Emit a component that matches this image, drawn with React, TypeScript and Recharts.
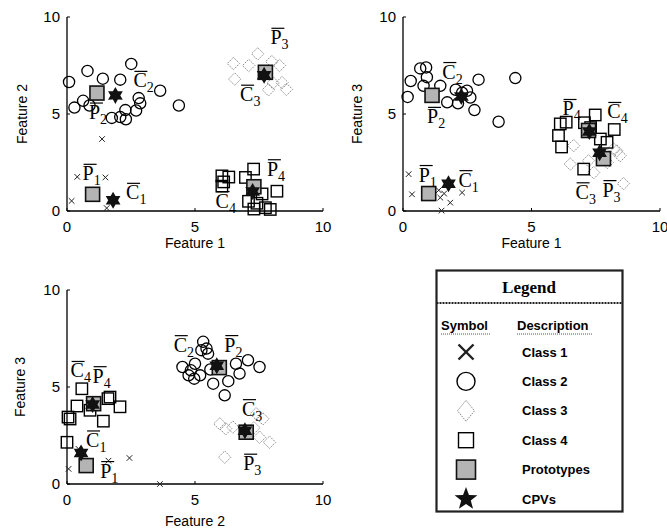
import { ScatterChart, Scatter, XAxis, YAxis } from 'recharts';

type Pt = [number, number];

// Feature 1 vs Feature 2
const class1A: Pt[] = [[1.37, 3.71], [0.4, 1.76], [1.5, 1.73], [0.18, 0.52], [1.55, 0.15]];
const class2A: Pt[] = [
  [0.08, 6.65], [0.8, 7.22], [1.4, 6.82], [2.08, 6.77], [2.51, 7.58], [3.64, 6.2], [4.37, 5.44],
  [0.29, 5.33], [0.63, 5.68], [0.88, 5.44], [1.75, 4.8], [2.08, 4.84], [2.28, 5.2], [2.3, 4.73],
  [2.7, 5.18], [2.8, 5.82], [2.86, 5.55],
];
const class3A: Pt[] = [
  [6.5, 7.6], [7.1, 7.5], [7.45, 8.1], [8.0, 7.7], [8.3, 7.5], [6.55, 6.8], [8.4, 6.62],
  [8.57, 6.27], [7.87, 6.25], [8.05, 6.6],
];
const class4A: Pt[] = [
  [6.05, 1.81], [6.12, 1.5], [6.05, 1.28], [6.32, 1.75], [7.29, 2.16], [6.97, 1.73], [8.2, 1.02],
  [7.62, 0.88], [7.09, 0.5], [7.42, 0.4], [7.75, 0.17], [7.94, 0.08], [7.3, 0.1],
];
const protoA: Pt[] = [[1.0, 0.86], [1.17, 6.08], [7.75, 7.15], [7.3, 1.25]];
const cpvA: Pt[] = [[1.8, 0.55], [1.89, 5.96], [7.7, 7.0], [7.25, 1.0]];

// Feature 1 vs Feature 3
const class1B: Pt[] = [[0.22, 1.9], [0.35, 0.86], [1.39, 1.07], [1.45, 0.69], [1.84, 0.43], [2.3, 0.95], [1.5, 0.02], [1.6, 0.9]];
const class2B: Pt[] = [
  [0.18, 5.88], [0.3, 6.7], [0.67, 7.35], [0.9, 7.4], [0.93, 6.9], [0.8, 6.45], [1.45, 6.45],
  [2.94, 6.77], [4.37, 6.85], [1.72, 5.6], [2.14, 5.55], [2.78, 5.2], [2.62, 5.85], [3.72, 4.6],
  [2.49, 6.2], [2.3, 6.1], [2.05, 6.25],
];
const class3B: Pt[] = [
  [6.64, 3.37], [6.51, 2.42], [7.22, 2.59], [7.42, 1.98], [8.19, 3.2], [8.45, 2.85], [8.58, 1.41],
  [8.32, 3.1], [7.95, 2.5],
];
const class4B: Pt[] = [
  [6.12, 4.49], [6.35, 4.58], [6.05, 3.89], [6.17, 3.3], [7.48, 4.95], [7.06, 4.55], [8.22, 4.2],
  [7.68, 3.71], [7.94, 3.54], [7.03, 2.16], [7.3, 4.3],
];
const protoB: Pt[] = [[1.0, 0.9], [1.13, 5.96], [7.8, 2.7], [7.22, 4.15]];
const cpvB: Pt[] = [[1.77, 1.41], [2.27, 5.9], [7.65, 3.0], [7.25, 4.1]];

// Feature 2 vs Feature 3
const class1C: Pt[] = [[0.45, 1.81], [2.44, 1.34], [0.06, 0.78], [3.63, 0.0], [1.62, 1.2]];
const class2C: Pt[] = [
  [5.32, 7.33], [5.45, 6.98], [5.51, 6.72], [5.25, 6.9], [4.51, 6.03], [4.84, 5.86], [4.97, 5.43],
  [5.2, 5.6], [5.71, 5.17], [6.16, 4.57], [6.74, 5.69], [7.07, 6.38], [7.52, 6.03], [6.6, 6.2],
  [5.0, 6.2], [5.6, 5.9], [6.3, 5.3], [4.75, 5.6],
];
const class3C: Pt[] = [
  [5.97, 3.1], [6.48, 2.93], [7.39, 3.62], [7.65, 3.36], [7.91, 2.15], [7.52, 2.41], [6.16, 1.38],
  [6.2, 2.85], [7.3, 2.9],
];
const class4C: Pt[] = [
  [0.58, 4.91], [0.39, 4.02], [1.68, 4.48], [2.07, 3.98], [1.42, 3.24], [0.04, 3.45], [0.0, 2.15],
  [0.9, 3.8], [0.12, 3.35], [1.6, 4.4],
];
const protoC: Pt[] = [[0.75, 0.95], [5.95, 6.0], [7.0, 2.67], [1.04, 4.14]];
const cpvC: Pt[] = [[0.55, 1.6], [5.85, 6.1], [6.95, 2.75], [1.0, 4.1]];

const ticks = [0, 5, 10];
const legendRows = ['Class 1', 'Class 2', 'Class 3', 'Class 4', 'Prototypes', 'CPVs'];

// pixel offsets of the P̄k / C̄k annotations from their marker
const notesA: Record<string, Pt> = {
  P1: [-10, -14], P2: [-8, 26], P3: [5, -28], P4: [13, -11],
  C1: [13, -1], C2: [18, -8], C3: [-24, 26], C4: [-37, 16],
};
const notesB: Record<string, Pt> = {
  P1: [-10, -12], P2: [-5, 28], P3: [-1, 38], P4: [-26, -15],
  C1: [10, 3], C2: [-19, -18], C3: [-24, 46], C4: [18, -13],
};
const notesC: Record<string, Pt> = {
  P1: [14, 12], P2: [5, -16], P3: [-3, 38], P4: [-1, -21],
  C1: [5, -6], C2: [-43, -14], C3: [-3, -15], C4: [-22, -27],
};

const SANS = '"Liberation Sans", Arial, sans-serif';
const SERIF = '"Liberation Serif", "Times New Roman", serif';

const toXY = (pts: Pt[], tag?: string) =>
  pts.map(([x, y], i) => ({ x, y, id: tag ? `${tag}${i + 1}` : undefined }));

const starPath = (cx: number, cy: number, r: number, n: number, inner: number) => {
  const pts: string[] = [];
  for (let k = 0; k < n * 2; k++) {
    const a = (-90 + (180 / n) * k) * (Math.PI / 180);
    const rr = k % 2 === 0 ? r : r * inner;
    pts.push(`${(cx + rr * Math.cos(a)).toFixed(2)},${(cy + rr * Math.sin(a)).toFixed(2)}`);
  }
  return `M${pts.join('L')}Z`;
};

const Cross = ({ cx, cy, s = 2.8, w = 1 }: any) => (
  <g stroke="#222" strokeWidth={w}>
    <line x1={cx - s} y1={cy - s} x2={cx + s} y2={cy + s} />
    <line x1={cx - s} y1={cy + s} x2={cx + s} y2={cy - s} />
  </g>
);
const Ring = ({ cx, cy, r = 5.6, w = 1.3 }: any) => (
  <circle cx={cx} cy={cy} r={r} fill="none" stroke="#000" strokeWidth={w} />
);
const Diamond = ({ cx, cy, s = 6.2, h = 6.2 }: any) => (
  <path
    d={`M${cx},${cy - h}L${cx + s},${cy}L${cx},${cy + h}L${cx - s},${cy}Z`}
    fill="none"
    stroke="#8a8a8a"
    strokeWidth={1}
    strokeDasharray="1.6 1.1"
  />
);
const Box = ({ cx, cy, s = 5.7, w = 1.4 }: any) => (
  <rect x={cx - s} y={cy - s} width={s * 2} height={s * 2} fill="none" stroke="#000" strokeWidth={w} />
);
const Proto = ({ cx, cy, s = 7 }: any) => (
  <rect x={cx - s} y={cy - s} width={s * 2} height={s * 2} fill="#b4b4b4" stroke="#111" strokeWidth={1.6} />
);
const Hex = ({ cx, cy }: any) => <path d={starPath(cx, cy, 8.5, 6, 0.577)} fill="#111" />;

const BarLetter = ({ x, y, letter, sub }: { x: number; y: number; letter: string; sub: string }) => (
  <g>
    <text x={x} y={y} fontFamily={SERIF} fontSize={20} fill="#000">
      {letter}
      <tspan fontSize={14} dy={5}>{sub}</tspan>
    </text>
    <line x1={x + 1} x2={x + 14} y1={y - 16} y2={y - 16} stroke="#000" strokeWidth={1.2} />
  </g>
);

type PanelProps = {
  left: number;
  top: number;
  width: number;
  height: number;
  margin: { top: number; right: number; bottom: number; left: number };
  yWidth: number;
  xLabel: string;
  yLabel: string;
  xLabelOffset: number;
  yLabelOffset: number;
  c1: Pt[];
  c2: Pt[];
  c3: Pt[];
  c4: Pt[];
  protos: Pt[];
  cpvs: Pt[];
  notes: Record<string, Pt>;
};

function Panel(p: PanelProps) {
  const tickStyle = { fill: '#000', fontSize: 15, fontFamily: SANS };
  const axisLine = { stroke: '#000', strokeWidth: 1.3 };
  const notes = [...toXY(p.protos, 'P'), ...toXY(p.cpvs, 'C')];
  return (
    <div style={{ position: 'absolute', left: p.left, top: p.top }}>
      <ScatterChart width={p.width} height={p.height} margin={p.margin}>
        <XAxis
          type="number"
          dataKey="x"
          domain={[0, 10]}
          ticks={ticks}
          interval={0}
          height={45}
          tickSize={-3}
          tickMargin={13}
          axisLine={axisLine}
          tickLine={{ stroke: '#000' }}
          tick={tickStyle}
          label={{
            value: p.xLabel,
            position: 'insideTop',
            offset: p.xLabelOffset,
            fill: '#000',
            fontSize: 14,
            fontFamily: SANS,
          }}
        />
        <YAxis
          type="number"
          dataKey="y"
          domain={[0, 10]}
          ticks={ticks}
          interval={0}
          width={p.yWidth}
          tickSize={-3}
          tickMargin={10}
          axisLine={axisLine}
          tickLine={{ stroke: '#000' }}
          tick={tickStyle}
          label={{
            value: p.yLabel,
            angle: -90,
            position: 'insideLeft',
            offset: p.yLabelOffset,
            fill: '#000',
            fontSize: 14,
            fontFamily: SANS,
            style: { textAnchor: 'middle' },
          }}
        />
        <Scatter data={toXY(p.c3)} isAnimationActive={false} shape={(s: any) => <Diamond cx={s.cx} cy={s.cy} />} />
        <Scatter data={toXY(p.c4)} isAnimationActive={false} shape={(s: any) => <Box cx={s.cx} cy={s.cy} />} />
        <Scatter data={toXY(p.c2)} isAnimationActive={false} shape={(s: any) => <Ring cx={s.cx} cy={s.cy} />} />
        <Scatter data={toXY(p.c1)} isAnimationActive={false} shape={(s: any) => <Cross cx={s.cx} cy={s.cy} />} />
        <Scatter data={toXY(p.protos, 'P')} isAnimationActive={false} shape={(s: any) => <Proto cx={s.cx} cy={s.cy} />} />
        <Scatter data={toXY(p.cpvs, 'C')} isAnimationActive={false} shape={(s: any) => <Hex cx={s.cx} cy={s.cy} />} />
        <Scatter
          data={notes}
          isAnimationActive={false}
          shape={(s: any) => {
            const id: string = s.payload.id;
            const off = p.notes[id] || [0, 0];
            return <BarLetter x={s.cx + off[0]} y={s.cy + off[1]} letter={id[0]} sub={id.slice(1)} />;
          }}
        />
      </ScatterChart>
    </div>
  );
}

function LegendSymbol({ i, cx, cy }: { i: number; cx: number; cy: number }) {
  if (i === 0) return <Cross cx={cx} cy={cy} s={7.5} w={2.4} />;
  if (i === 1) return <Ring cx={cx} cy={cy} r={9} w={1.4} />;
  if (i === 2) return <Diamond cx={cx} cy={cy} s={8.5} h={10.5} />;
  if (i === 3) return <Box cx={cx} cy={cy} s={7.5} w={1.4} />;
  if (i === 4) return <Proto cx={cx} cy={cy} s={9.5} />;
  return <path d={starPath(cx, cy, 12, 5, 0.42)} fill="#111" />;
}

function LegendBox() {
  const rowY = (i: number) => 83 + i * 29.4;
  return (
    <svg width={189} height={244} style={{ position: 'absolute', left: 435, top: 269 }}>
      <rect x={1.5} y={1.5} width={186} height={241} fill="#fff" stroke="#222" strokeWidth={2.2} />
      <text x={94} y={24} textAnchor="middle" fontFamily={SERIF} fontWeight="bold" fontSize={17} fill="#000">
        Legend
      </text>
      <line x1={1.5} x2={187.5} y1={34} y2={34} stroke="#222" strokeWidth={1.8} strokeDasharray="2 1" />
      <text x={6} y={61} fontFamily={SANS} fontWeight="bold" fontSize={13} fill="#000">Symbol</text>
      <text x={82} y={61} fontFamily={SANS} fontWeight="bold" fontSize={13} fill="#000">Description</text>
      <line x1={6} x2={55} y1={65} y2={65} stroke="#555" strokeWidth={1} strokeDasharray="1 1" />
      <line x1={82} x2={157} y1={65} y2={65} stroke="#555" strokeWidth={1} strokeDasharray="1 1" />
      {legendRows.map((name, i) => (
        <g key={name}>
          <LegendSymbol i={i} cx={31} cy={rowY(i)} />
          <text x={87} y={rowY(i) + 4.5} fontFamily={SANS} fontWeight="bold" fontSize={13} fill="#000">
            {name}
          </text>
        </g>
      ))}
    </svg>
  );
}

export default function App() {
  return (
    <div style={{ position: 'absolute', left: 0, top: 0, width: 667, height: 532, background: '#fff', overflow: 'hidden' }}>
      <Panel
        left={0}
        top={0}
        width={340}
        height={260}
        margin={{ top: 17, right: 17, bottom: 4, left: 6 }}
        yWidth={61}
        xLabel="Feature 1"
        yLabel="Feature 2"
        xLabelOffset={27}
        yLabelOffset={16}
        c1={class1A}
        c2={class2A}
        c3={class3A}
        c4={class4A}
        protos={protoA}
        cpvs={cpvA}
        notes={notesA}
      />
      <Panel
        left={334}
        top={0}
        width={333}
        height={260}
        margin={{ top: 17, right: 7, bottom: 4, left: 6 }}
        yWidth={63}
        xLabel="Feature 1"
        yLabel="Feature 3"
        xLabelOffset={27}
        yLabelOffset={17}
        c1={class1B}
        c2={class2B}
        c3={class3B}
        c4={class4B}
        protos={protoB}
        cpvs={cpvB}
        notes={notesB}
      />
      <Panel
        left={0}
        top={273}
        width={340}
        height={259}
        margin={{ top: 17, right: 17, bottom: 3, left: 6 }}
        yWidth={61}
        xLabel="Feature 2"
        yLabel="Feature 3"
        xLabelOffset={32}
        yLabelOffset={14}
        c1={class1C}
        c2={class2C}
        c3={class3C}
        c4={class4C}
        protos={protoC}
        cpvs={cpvC}
        notes={notesC}
      />
      <LegendBox />
    </div>
  );
}
